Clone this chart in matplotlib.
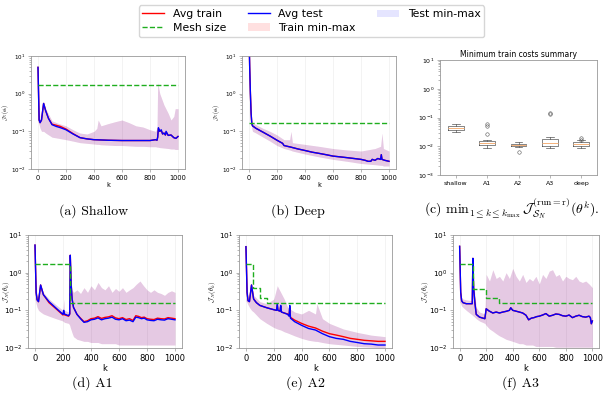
import numpy as np
import matplotlib.pyplot as plt

# ---------------- data ----------------
# (a) Shallow
a_k = [0, 8, 15, 25, 40, 55, 75, 100, 130, 160, 200, 250, 300, 350, 400, 450, 500,
       600, 700, 800, 840, 850, 855, 860, 870, 880, 890, 900, 910, 915, 930, 950,
       970, 985, 1000]
a_test = [5.0, 0.2, 0.17, 0.2, 0.55, 0.35, 0.22, 0.15, 0.135, 0.125, 0.11, 0.085,
          0.068, 0.063, 0.06, 0.059, 0.058, 0.057, 0.057, 0.057, 0.06, 0.058, 0.07,
          0.125, 0.1, 0.11, 0.085, 0.09, 0.08, 0.1, 0.078, 0.08, 0.068, 0.065, 0.073]
a_train = [5.0, 0.2, 0.17, 0.2, 0.55, 0.35, 0.22, 0.155, 0.145, 0.135, 0.115, 0.087,
           0.068, 0.063, 0.06, 0.059, 0.058, 0.057, 0.057, 0.057, 0.06, 0.058, 0.07,
           0.12, 0.1, 0.105, 0.085, 0.09, 0.08, 0.095, 0.078, 0.08, 0.068, 0.065, 0.073]
a_k_band = [0, 8, 15, 25, 40, 55, 100, 150, 200, 250, 300, 350, 400, 420, 430, 450,
            500, 550, 600, 650, 700, 750, 800, 840, 850, 855, 870, 900, 930, 950,
            970, 980, 1000]
a_hi = [5.5, 0.4, 0.2, 0.25, 0.62, 0.4, 0.19, 0.16, 0.14, 0.11, 0.09, 0.085, 0.1,
        0.12, 0.2, 0.14, 0.16, 0.18, 0.2, 0.17, 0.14, 0.13, 0.11, 0.1, 0.12, 2.0,
        1.0, 0.5, 0.3, 0.2, 0.25, 0.4, 0.4]
a_lo = [0.18, 0.15, 0.12, 0.1, 0.1, 0.09, 0.07, 0.065, 0.06, 0.055, 0.05, 0.048,
        0.046, 0.045, 0.045, 0.044, 0.043, 0.042, 0.042, 0.041, 0.04, 0.04, 0.039,
        0.039, 0.038, 0.038, 0.037, 0.036, 0.035, 0.034, 0.034, 0.033, 0.033]
a_mesh_k = [0, 1000]
a_mesh = [1.66, 1.66]

# (b) Deep
b_k = [0, 5, 10, 15, 20, 25, 50, 100, 150, 200, 240, 250, 300, 350, 400, 450, 500,
       550, 600, 650, 700, 750, 800, 830, 850, 870, 880, 900, 920, 940, 945, 950,
       970, 1000]
b_test = [40.0, 5.0, 1.0, 0.3, 0.16, 0.14, 0.12, 0.095, 0.075, 0.058, 0.048, 0.042,
          0.038, 0.034, 0.031, 0.028, 0.026, 0.024, 0.022, 0.021, 0.02, 0.019, 0.018,
          0.017, 0.016, 0.016, 0.018, 0.017, 0.019, 0.018, 0.024, 0.018, 0.017, 0.016]
b_k_band = [0, 5, 10, 15, 20, 25, 50, 100, 150, 200, 250, 290, 300, 310, 400, 500,
            600, 700, 800, 900, 940, 950, 960, 1000]
b_hi = [40, 6, 1.5, 0.4, 0.2, 0.17, 0.15, 0.12, 0.1, 0.08, 0.06, 0.06, 0.1, 0.05,
        0.045, 0.04, 0.035, 0.032, 0.03, 0.035, 0.04, 0.09, 0.035, 0.03]
b_lo = [30, 4, 0.6, 0.2, 0.12, 0.1, 0.09, 0.07, 0.055, 0.042, 0.035, 0.032, 0.031,
        0.03, 0.025, 0.021, 0.018, 0.016, 0.014, 0.013, 0.0125, 0.0125, 0.012, 0.012]
b_mesh_k = [0, 1000]
b_mesh = [0.17, 0.17]

# (c) minimum train cost per run, box summaries
box_names = ['shallow', 'A1', 'A2', 'A3', 'deep']
box_med = [0.043, 0.0132, 0.011, 0.0125, 0.012]
box_q1 = [0.038, 0.0112, 0.0099, 0.0101, 0.0105]
box_q3 = [0.049, 0.0157, 0.0122, 0.018, 0.0138]
box_lo = [0.032, 0.0088, 0.0091, 0.0087, 0.0089]
box_hi = [0.059, 0.017, 0.0136, 0.0216, 0.016]
box_fliers = [[], [0.059, 0.052, 0.027], [0.0063], [0.13, 0.14], [0.019, 0.017]]

# (d) A1
d_k = [0, 8, 15, 25, 40, 60, 100, 150, 200, 205, 210, 240, 248, 252, 258, 265, 275,
       300, 325, 350, 375, 400, 425, 450, 475, 500, 525, 550, 575, 600, 625, 650,
       675, 700, 720, 740, 760, 780, 800, 825, 850, 875, 900, 925, 950, 975, 1000]
d_test = [5.4, 0.3, 0.19, 0.17, 0.47, 0.26, 0.17, 0.115, 0.078, 0.1, 0.08, 0.072,
          0.08, 2.9, 0.5, 0.2, 0.12, 0.078, 0.06, 0.048, 0.05, 0.056, 0.058, 0.063,
          0.056, 0.06, 0.062, 0.066, 0.058, 0.056, 0.06, 0.053, 0.055, 0.05, 0.066,
          0.064, 0.06, 0.062, 0.056, 0.054, 0.053, 0.058, 0.056, 0.055, 0.06, 0.058,
          0.056]
d_train = [5.4, 0.3, 0.19, 0.17, 0.47, 0.26, 0.16, 0.11, 0.075, 0.09, 0.076, 0.07,
           0.08, 2.9, 0.5, 0.2, 0.12, 0.078, 0.062, 0.05, 0.053, 0.06, 0.062, 0.068,
           0.061, 0.065, 0.067, 0.072, 0.063, 0.06, 0.064, 0.057, 0.06, 0.054, 0.072,
           0.069, 0.064, 0.066, 0.06, 0.058, 0.057, 0.062, 0.06, 0.059, 0.064, 0.062,
           0.06]
d_k_band = [0, 8, 15, 25, 40, 60, 100, 150, 200, 205, 210, 240, 248, 252, 258, 265,
            275, 300, 325, 350, 375, 400, 425, 450, 475, 500, 525, 550, 575, 600, 625,
            650, 675, 700, 725, 750, 775, 800, 825, 850, 875, 900, 925, 950, 975, 1000]
d_hi = [5.6, 0.4, 0.25, 0.23, 0.5, 0.3, 0.2, 0.14, 0.1, 0.2, 0.1, 0.09, 0.1, 3.1,
        0.6, 0.35, 0.3, 0.35, 0.28, 0.4, 0.3, 0.45, 0.35, 0.55, 0.4, 0.35, 0.45, 0.3,
        0.38, 0.32, 0.4, 0.3, 0.35, 0.4, 0.5, 0.6, 0.45, 0.35, 0.3, 0.35, 0.3, 0.28,
        0.25, 0.3, 0.33, 0.3]
d_lo = [0.2, 0.15, 0.12, 0.1, 0.09, 0.08, 0.07, 0.06, 0.052, 0.05, 0.048, 0.045,
        0.04, 0.035, 0.03, 0.025, 0.02, 0.017, 0.016, 0.015, 0.015, 0.014, 0.014,
        0.014, 0.013, 0.013, 0.013, 0.013, 0.013, 0.012, 0.012, 0.012, 0.012, 0.012,
        0.012, 0.012, 0.012, 0.012, 0.012, 0.012, 0.012, 0.012, 0.012, 0.012, 0.012,
        0.012]
d_mesh_k = [0, 250, 1000]
d_mesh = [1.66, 0.157, 0.157]

# (e) A2
e_k = [0, 8, 15, 25, 40, 55, 75, 100, 150, 200, 220, 225, 230, 245, 250, 255, 275,
       300, 310, 315, 320, 350, 400, 450, 500, 550, 600, 650, 700, 750, 800, 850,
       900, 950, 1000]
e_test = [4.9, 0.3, 0.18, 0.17, 0.47, 0.2, 0.16, 0.135, 0.117, 0.104, 0.1, 0.15, 0.1,
          0.095, 0.135, 0.09, 0.085, 0.078, 0.07, 0.135, 0.062, 0.05, 0.04, 0.033,
          0.03, 0.024, 0.02, 0.018, 0.017, 0.015, 0.014, 0.013, 0.0127, 0.012, 0.012]
e_train = [4.9, 0.3, 0.18, 0.17, 0.47, 0.2, 0.16, 0.135, 0.117, 0.104, 0.1, 0.14,
           0.1, 0.095, 0.13, 0.09, 0.085, 0.08, 0.072, 0.12, 0.065, 0.055, 0.045,
           0.038, 0.034, 0.028, 0.024, 0.022, 0.02, 0.018, 0.017, 0.016, 0.0155,
           0.015, 0.015]
e_k_band = [0, 8, 15, 25, 40, 55, 100, 150, 200, 225, 250, 275, 300, 350, 400, 450,
            500, 510, 550, 600, 700, 800, 900, 1000]
e_hi = [5.2, 0.5, 0.2, 0.2, 0.5, 0.25, 0.17, 0.15, 0.2, 0.45, 0.3, 0.2, 0.12, 0.09,
        0.08, 0.1, 0.08, 0.15, 0.06, 0.045, 0.032, 0.026, 0.022, 0.02]
e_lo = [0.18, 0.16, 0.14, 0.12, 0.1, 0.09, 0.06, 0.045, 0.035, 0.032, 0.03, 0.027,
        0.025, 0.021, 0.018, 0.016, 0.015, 0.015, 0.014, 0.013, 0.012, 0.011,
        0.0105, 0.01]
e_mesh_k = [0, 50, 100, 150, 1000]
e_mesh = [1.66, 0.38, 0.21, 0.157, 0.157]

# (f) A3
f_k = [0, 8, 15, 25, 50, 95, 100, 105, 115, 125, 150, 190, 200, 220, 250, 275, 300,
       325, 350, 375, 385, 400, 425, 450, 475, 500, 520, 540, 560, 580, 600, 625,
       650, 675, 700, 725, 750, 775, 800, 825, 850, 875, 900, 925, 950, 975, 985,
       992, 1000]
f_test = [5.0, 0.3, 0.18, 0.16, 0.15, 0.15, 2.4, 0.4, 0.16, 0.078, 0.066, 0.06, 0.11,
          0.097, 0.085, 0.09, 0.085, 0.09, 0.094, 0.1, 0.117, 0.1, 0.095, 0.09,
          0.085, 0.074, 0.056, 0.062, 0.064, 0.068, 0.07, 0.075, 0.082, 0.07, 0.074,
          0.08, 0.078, 0.072, 0.07, 0.075, 0.064, 0.07, 0.074, 0.068, 0.066, 0.07,
          0.064, 0.044, 0.052]
f_k_band = [0, 8, 15, 25, 50, 95, 100, 105, 115, 125, 150, 190, 200, 225, 250, 275,
            300, 325, 350, 375, 400, 425, 450, 475, 500, 525, 550, 575, 600, 625, 650,
            675, 700, 725, 750, 775, 800, 825, 850, 875, 900, 925, 950, 975, 1000]
f_hi = [5.2, 0.4, 0.22, 0.2, 0.19, 0.18, 2.6, 0.6, 0.25, 0.12, 0.09, 0.08, 0.9, 0.6,
        1.2, 0.7, 0.8, 0.6, 1.0, 0.7, 1.3, 0.8, 0.6, 0.9, 0.55, 0.7, 0.6, 0.8, 0.5,
        0.9, 0.7, 1.1, 1.2, 0.8, 0.9, 0.6, 0.8, 0.7, 0.65, 0.8, 0.6, 0.55, 0.6, 0.5,
        0.4]
f_lo = [0.17, 0.15, 0.13, 0.12, 0.1, 0.075, 0.072, 0.07, 0.065, 0.06, 0.052, 0.045,
        0.04, 0.032, 0.028, 0.024, 0.021, 0.019, 0.017, 0.016, 0.015, 0.014, 0.013,
        0.013, 0.012, 0.012, 0.012, 0.011, 0.011, 0.011, 0.011, 0.011, 0.011, 0.0105,
        0.0105, 0.0105, 0.0105, 0.0105, 0.0105, 0.0105, 0.0105, 0.0105, 0.0105,
        0.0105, 0.0105]
f_mesh_k = [0, 100, 200, 300, 1000]
f_mesh = [1.66, 0.37, 0.21, 0.157, 0.157]

# ---------------- figure ----------------
W, H = 613.0, 401.0
fig = plt.figure(figsize=(W / 100, H / 100), dpi=100)
SPINE = '#999999'
GREEN = '#1fae1f'


def px_axes(x0, x1, y0, y1):
    # axes placed by pixel edges (left, right, top, bottom)
    return fig.add_axes([x0 / W, 1 - y1 / H, (x1 - x0) / W, (y1 - y0) / H])


def style(ax, fs):
    for s in ax.spines.values():
        s.set_color(SPINE)
        s.set_linewidth(0.6)
    ax.tick_params(which='both', labelsize=fs, color=SPINE, width=0.5, pad=1.5)
    ax.tick_params(which='major', length=2.5)
    ax.tick_params(which='minor', length=1.5)


def curve_panel(ax, k, train, test, kb, lo, hi, mk, mesh, fs, ylab_x):
    ax.fill_between(kb, lo, hi, color='red', alpha=0.12, lw=0, label='Train min-max')
    ax.fill_between(kb, lo, hi, color='blue', alpha=0.1, lw=0, label='Test min-max')
    ax.plot(k, train, color='red', lw=1.0, label='Avg train')
    ax.plot(k, test, color='blue', lw=1.0, label='Avg test')
    ax.step(mk, mesh, where='post', color=GREEN, ls='--', lw=1.0, label='Mesh size')
    ax.set_yscale('log')
    ax.set_ylim(1e-2, 1e1)
    ax.set_xticks([0, 200, 400, 600, 800, 1000])
    ax.grid(True, axis='x', color='#eeeeee', lw=0.5)
    ax.set_axisbelow(True)
    ax.set_xlabel('k', fontsize=fs, labelpad=1)
    ax.set_ylabel(r'$\mathcal{J}_N(\theta_k)$', fontsize=fs - 1.0,
                  math_fontfamily='cm')
    ax.yaxis.set_label_coords(ylab_x, 0.5)
    style(ax, fs)
    ax.tick_params(axis='y', labelsize=fs - 0.7)


ax_a = px_axes(31, 185, 56, 169)
curve_panel(ax_a, a_k, a_train, a_test, a_k_band, a_lo, a_hi, a_mesh_k, a_mesh, 4.8, -0.13)
ax_b = px_axes(242, 396, 56, 169)
curve_panel(ax_b, b_k, b_test, b_test, b_k_band, b_lo, b_hi, b_mesh_k, b_mesh, 4.8, -0.13)
ax_d = px_axes(28, 182, 235, 348)
curve_panel(ax_d, d_k, d_train, d_test, d_k_band, d_lo, d_hi, d_mesh_k, d_mesh, 6, -0.105)
ax_e = px_axes(239, 392, 235, 348)
curve_panel(ax_e, e_k, e_train, e_test, e_k_band, e_lo, e_hi, e_mesh_k, e_mesh, 6, -0.14)
ax_f = px_axes(453, 599, 235, 348)
curve_panel(ax_f, f_k, f_test, f_test, f_k_band, f_lo, f_hi, f_mesh_k, f_mesh, 6, -0.15)

# box plot summary
ax_c = px_axes(440, 597, 60, 175)
stats = []
for i, name in enumerate(box_names):
    stats.append(dict(label=name, med=box_med[i], q1=box_q1[i], q3=box_q3[i],
                      whislo=box_lo[i], whishi=box_hi[i], fliers=box_fliers[i]))
ax_c.bxp(stats, widths=0.5,
         boxprops=dict(color='#555555', lw=0.5),
         whiskerprops=dict(color='#555555', lw=0.5),
         capprops=dict(color='#555555', lw=0.5),
         medianprops=dict(color='#f5b27a', lw=0.7),
         flierprops=dict(marker='o', markersize=2.5, markerfacecolor='none',
                         markeredgecolor='#555555', markeredgewidth=0.4))
ax_c.set_yscale('log')
ax_c.set_ylim(1e-3, 1e1)
ax_c.set_title('Minimum train costs summary', fontsize=5.5, pad=2)
style(ax_c, 4.5)

# legend shared by the curve panels
h, l = ax_a.get_legend_handles_labels()
lookup = dict(zip(l, h))
order = ['Avg train', 'Mesh size', 'Avg test', 'Train min-max', 'Test min-max']
fig.legend([lookup[o] for o in order], order, loc='upper center',
           bbox_to_anchor=(0.508, 1.0), ncol=3, fontsize=7.8, frameon=True,
           edgecolor='#cccccc', handlelength=2.0, borderpad=0.35, labelspacing=0.35)

# sub-captions
cap = dict(ha='center', va='center', fontsize=10, family='cmr10', math_fontfamily='cm')
fig.text(94 / W, 1 - 211 / H, '(a) Shallow', **cap)
fig.text(298 / W, 1 - 211 / H, '(b) Deep', **cap)
fig.text(512 / W, 1 - 209 / H,
         r'(c) $\mathrm{min}_{1\leq k\leq k_{\mathrm{max}}}\,'
         r'\mathcal{J}_{\mathcal{S}_N}^{(\mathrm{run}=\mathrm{r})}(\theta^k)$.',
         **cap)
fig.text(92 / W, 1 - 383 / H, '(d) A1', **cap)
fig.text(305 / W, 1 - 383 / H, '(e) A2', **cap)
fig.text(520 / W, 1 - 383 / H, '(f) A3', **cap)

fig.savefig('out.png', dpi=100)
